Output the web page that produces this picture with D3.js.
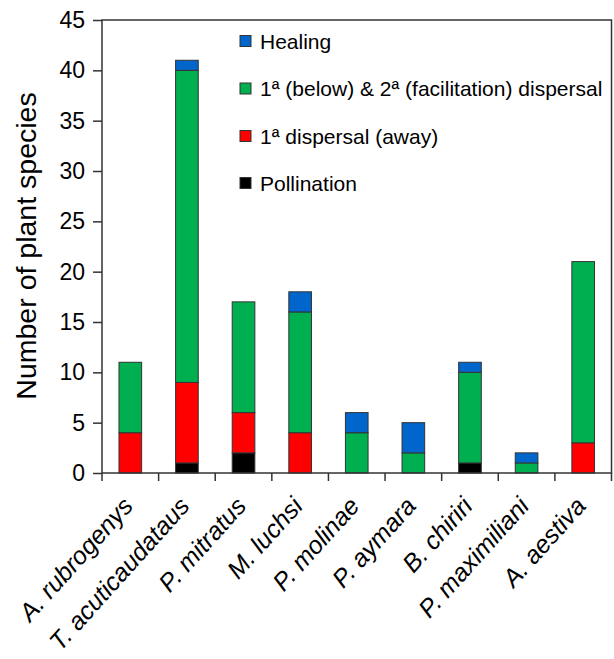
<!DOCTYPE html>
<html>
<head>
<meta charset="utf-8">
<script src="https://cdn.jsdelivr.net/npm/d3@7/dist/d3.min.js"></script>
<style>
    body { margin: 0; background: white; }
    text { font-family: "Liberation Sans", Arial, sans-serif; fill: #000; }
    .frame { fill: none; stroke: #333; stroke-width: 1.5px; }
    .axis path, .axis line { stroke: #333; stroke-width: 1.5px; }
</style>
</head>
<body>
<div id="chart"></div>
<script>
    // species on the x axis
    var species = ["A. rubrogenys", "T. acuticaudataus", "P. mitratus", "M. luchsi",
        "P. molinae", "P. aymara", "B. chiriri", "P. maximiliani", "A. aestiva"];
    // stacked from bottom to top
    var pollination = [0, 1, 2, 0, 0, 0, 1, 0, 0];
    var awayDispersal = [4, 8, 4, 4, 0, 0, 0, 0, 3];
    var belowDispersal = [7, 31, 11, 12, 4, 2, 9, 1, 18];
    var healing = [0, 1, 0, 2, 2, 3, 1, 1, 0];

    var seriesNames = ["Pollination", "1ª dispersal (away)",
        "1ª (below) & 2ª (facilitation) dispersal", "Healing"];
    var seriesColors = ["#000000", "#ff0000", "#00b050", "#0066cc"];
    var yTicks = [0, 5, 10, 15, 20, 25, 30, 35, 40, 45];

    var width = 614, height = 659;
    var margin = {top: 20, right: 2.5, bottom: 186, left: 102};
    var w = width - margin.left - margin.right,
        h = height - margin.top - margin.bottom;

    var svg = d3.select("#chart").append("svg")
        .attr("width", width)
        .attr("height", height);
    var g = svg.append("g")
        .attr("transform", "translate(" + margin.left + "," + margin.top + ")");

    var x = d3.scaleBand().domain(species).range([0, w]).padding(0);
    var y = d3.scaleLinear().domain([0, 45]).range([h, 0]);

    // build rows for the stack
    var rows = species.map(function (s, i) {
        return {name: s, s0: pollination[i], s1: awayDispersal[i], s2: belowDispersal[i], s3: healing[i]};
    });
    var stack = d3.stack().keys(["s0", "s1", "s2", "s3"]);
    var layers = stack(rows);

    var barW = x.bandwidth() * 0.4;

    layers.forEach(function (layer, k) {
        g.selectAll(".bar" + k)
            .data(layer.filter(function (d) { return d[1] > d[0]; }))
            .enter().append("rect")
            .attr("x", function (d) { return x(d.data.name) + (x.bandwidth() - barW) / 2; })
            .attr("y", function (d) { return y(d[1]); })
            .attr("width", barW)
            .attr("height", function (d) { return y(d[0]) - y(d[1]); })
            .attr("fill", seriesColors[k])
            .attr("stroke", "#333")
            .attr("stroke-width", 1);
    });

    // box round the plot
    g.append("rect").attr("class", "frame")
        .attr("x", 0).attr("y", 0).attr("width", w).attr("height", h);

    // y axis
    var yAxis = g.append("g").attr("class", "axis")
        .call(d3.axisLeft(y).tickValues(yTicks).tickSize(9).tickPadding(8).tickSizeOuter(0));
    yAxis.selectAll("text").style("font-size", "23px");
    yAxis.select(".domain").remove();

    // x axis ticks at the band edges
    var edges = d3.range(species.length + 1);
    g.selectAll(".xtick").data(edges).enter().append("line")
        .attr("x1", function (d) { return d * x.step(); })
        .attr("x2", function (d) { return d * x.step(); })
        .attr("y1", h).attr("y2", h + 8)
        .attr("stroke", "#333").attr("stroke-width", 1.5);

    g.selectAll(".xlabel").data(species).enter().append("text")
        .attr("transform", function (d) {
            return "translate(" + (x(d) + x.bandwidth() / 2 + 4) + "," + (h + 34) + ") rotate(-48)";
        })
        .attr("text-anchor", "end")
        .style("font-size", "25px")
        .style("font-style", "italic")
        .text(function (d) { return d; });

    // y label
    svg.append("text")
        .attr("transform", "translate(36,246) rotate(-90)")
        .attr("text-anchor", "middle")
        .style("font-size", "28.5px")
        .text("Number of plant species");

    // legend, top to bottom
    var legendY = [41, 88.5, 136, 183];
    var legendOrder = [3, 2, 1, 0];
    legendOrder.forEach(function (k, i) {
        svg.append("rect")
            .attr("x", 240).attr("y", legendY[i] - 5.5)
            .attr("width", 11).attr("height", 11)
            .attr("fill", seriesColors[k])
            .attr("stroke", "#333").attr("stroke-width", 1);
        svg.append("text")
            .attr("x", 260).attr("y", legendY[i] + 7.5)
            .style("font-size", "21px")
            .text(seriesNames[k]);
    });
</script>
</body>
</html>
